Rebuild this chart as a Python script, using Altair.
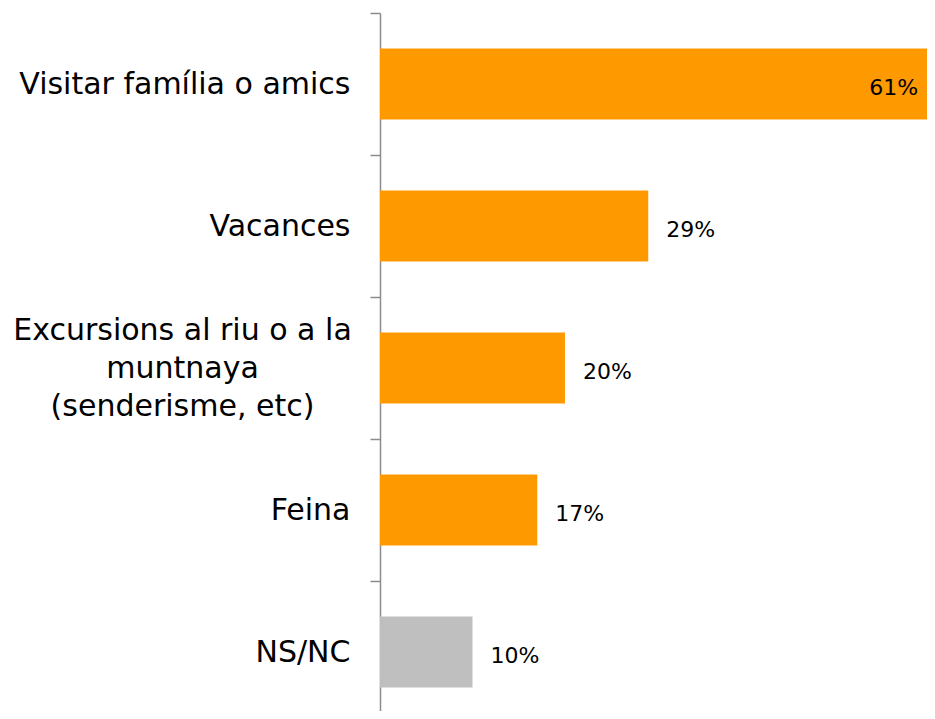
import altair as alt
import pandas as pd

categories = [
    "Visitar família o amics",
    "Vacances",
    "Excursions al riu o a la|muntnaya|(senderisme, etc)",
    "Feina",
    "NS/NC",
]
values = [61, 29, 20, 17, 10]
labels = ["61%", "29%", "20%", "17%", "10%"]

df = pd.DataFrame({"cat": categories, "val": values, "lab": labels})

FONT = "DejaVu Sans"
MULTI = f"datum.value == '{categories[2]}'"

y = alt.Y(
    "cat:N",
    sort=categories,
    title=None,
    scale=alt.Scale(paddingInner=0, paddingOuter=0),
    axis=alt.Axis(
        labelExpr="split(datum.label, '|')",
        labelFont=FONT,
        labelFontSize=30,
        labelColor="#000000",
        labelLineHeight=38,
        labelPadding=alt.condition(MULTI, alt.value(188), alt.value(20)),
        labelAlign=alt.condition(MULTI, alt.value("center"), alt.value("right")),
        labelLimit=400,
        labelOffset=alt.condition(MULTI, alt.value(-38), alt.value(0)),
        tickBand="extent",
        tickSize=10,
        tickColor="#8C8C8C",
        tickWidth=1.5,
        domainColor="#8C8C8C",
        domainWidth=1.5,
        grid=False,
    ),
)
x = alt.X(
    "val:Q",
    title=None,
    scale=alt.Scale(domain=[0, 60], nice=False, zero=True),
    axis=None,
)
y_text = alt.Y("cat:N", sort=categories)

bars = alt.Chart(df).mark_bar(clip=True, height={"band": 0.5}).encode(
    x=x,
    y=y,
    color=alt.condition(alt.datum.cat == "NS/NC", alt.value("#BFBFBF"), alt.value("#FF9900")),
)

outside = alt.Chart(df).transform_filter(alt.datum.val < 50).mark_text(
    align="left", baseline="middle", dx=18, dy=4, font=FONT, fontSize=22, color="#000000"
).encode(x=x, y=y_text, text="lab:N")

inside = alt.Chart(df).transform_filter(alt.datum.val >= 50).mark_text(
    align="right", baseline="middle", dx=-26, dy=4, font=FONT, fontSize=22, color="#000000"
).encode(x=x, y=y_text, text="lab:N")

chart = (
    alt.layer(bars, outside, inside)
    .properties(
        width=555,
        height=710,
        background="#FFFFFF",
        autosize=alt.AutoSizeParams(type="none"),
        padding={"left": 372, "top": 5, "right": -8, "bottom": -12},
    )
    .configure_view(stroke="transparent", strokeWidth=0)
)

chart.save("out.html", embed_options={"renderer": "svg", "actions": False})
